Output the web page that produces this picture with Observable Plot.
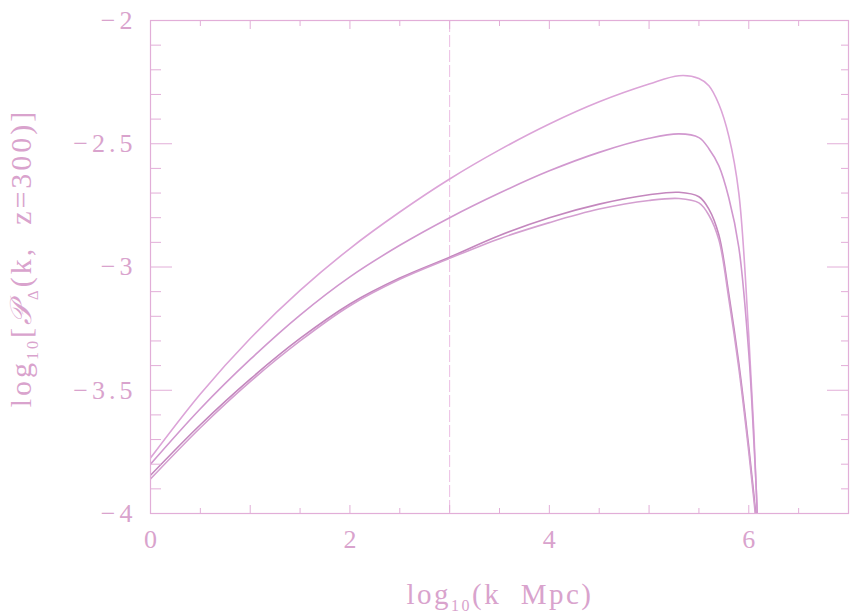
<!DOCTYPE html>
<html><head><meta charset="utf-8">
<script src="https://cdn.jsdelivr.net/npm/d3@7"></script>
<script src="https://cdn.jsdelivr.net/npm/@observablehq/plot@0.6"></script>
<style>body{margin:0;background:#fff}svg{display:block}</style>
</head><body><div id="chart"></div>
<script>
// log10(k Mpc) sample positions
const logK = [0, 0.5, 1, 1.5, 2, 2.5, 3, 3.5, 4, 4.5, 5, 5.3, 5.5, 5.6, 5.7, 5.8, 5.9, 6.0, 6.05, 6.08, 6.1, 6.15];
// log10[P(k, z=300)] for the four curves (top to bottom)
const curveA = [-3.775, -3.515, -3.29, -3.095, -2.925, -2.777, -2.643, -2.525, -2.42, -2.33, -2.258, -2.224, -2.235, -2.265, -2.34, -2.47, -2.70, -3.28, -3.66, -3.95, -4.2, -4.6];
const curveB = [-3.80, -3.575, -3.375, -3.195, -3.04, -2.912, -2.80, -2.70, -2.61, -2.535, -2.478, -2.46, -2.475, -2.52, -2.59, -2.72, -2.92, -3.35, -3.70, -3.95, -4.2, -4.6];
const curveC = [-3.845, -3.64, -3.455, -3.29, -3.15, -3.045, -2.96, -2.872, -2.80, -2.745, -2.707, -2.697, -2.715, -2.765, -2.87, -3.11, -3.39, -3.73, -3.92, -4.05, -4.2, -4.6];
const curveD = [-3.86, -3.652, -3.465, -3.30, -3.157, -3.05, -2.965, -2.885, -2.82, -2.765, -2.73, -2.722, -2.74, -2.79, -2.89, -3.13, -3.41, -3.75, -3.94, -4.07, -4.2, -4.6];
const seriesNames = ["A", "B", "C", "D"];
const seriesColors = ["#dca4d8", "#d198cf", "#c487be", "#d49fd0"];

const xLabelTicks = [0, 2, 4, 6];
const xMajorTicks = [0, 1, 2, 3, 4, 5, 6, 7];
const xMinorTicks = [0.5, 1.5, 2.5, 3.5, 4.5, 5.5, 6.5];
const yLabelTicks = [-4, -3.5, -3, -2.5, -2];
const yMinorTicks = [-3.9, -3.8, -3.7, -3.6, -3.4, -3.3, -3.2, -3.1, -2.9, -2.8, -2.7, -2.6, -2.4, -2.3, -2.2, -2.1];
const refLine = [3];

const curves = [curveA, curveB, curveC, curveD];
const rows = [];
curves.forEach((vals, i) => vals.forEach((v, j) => rows.push({k: logK[j], p: v, s: seriesNames[i]})));

const frameColor = "#e2aed8";
const textColor = "#d9a3cd";
const fmt = d => (d < 0 ? "\u2212" : "") + Math.abs(d);

const tickAxis = (fn, data, anchor, size) => fn(data, {anchor, tickSize: -size, fill: "none", stroke: frameColor, label: null});

const plot = Plot.plot({
  width: 856, height: 613,
  marginLeft: 150, marginRight: 8, marginTop: 20, marginBottom: 100,
  style: {fontFamily: "'Liberation Serif', serif", fontSize: "26px", background: "#fff"},
  x: {domain: [0, 7]},
  y: {domain: [-4, -2]},
  color: {domain: seriesNames, range: seriesColors},
  marks: [
    Plot.ruleX(refLine, {stroke: "#ecbde4", strokeWidth: 1, strokeDasharray: "12,3"}),
    Plot.line(rows, {x: "k", y: "p", z: "s", stroke: "s", strokeWidth: 1.6, curve: "catmull-rom", clip: true}),
    Plot.frame({stroke: frameColor, strokeWidth: 1.2}),
    tickAxis(Plot.axisX, xMajorTicks, "bottom", 8),
    tickAxis(Plot.axisX, xMinorTicks, "bottom", 5),
    tickAxis(Plot.axisX, xMajorTicks, "top", 8),
    tickAxis(Plot.axisX, xMinorTicks, "top", 5),
    tickAxis(Plot.axisY, yLabelTicks, "left", 22),
    tickAxis(Plot.axisY, yMinorTicks, "left", 11),
    tickAxis(Plot.axisY, yLabelTicks, "right", 22),
    tickAxis(Plot.axisY, yMinorTicks, "right", 8),
    Plot.axisX(xLabelTicks, {anchor: "bottom", tickSize: 0, tickPadding: 16, fill: textColor, fontSize: 26, label: null, tickFormat: fmt}),
    Plot.axisY(yLabelTicks, {anchor: "left", tickSize: 0, tickPadding: 14, fill: textColor, fontSize: 26, label: null, tickFormat: fmt})
  ]
});
document.getElementById("chart").appendChild(plot);

const svg = d3.select(plot);
svg.selectAll("g[aria-label='y-axis tick label'] text").attr("letter-spacing", "4px");

const xl = svg.append("text")
  .attr("x", 500).attr("y", 604)
  .attr("text-anchor", "middle")
  .attr("fill", textColor)
  .attr("font-family", "'Liberation Serif', serif")
  .attr("font-size", 29)
  .attr("letter-spacing", "2.5px")
  .style("white-space", "pre");
xl.append("tspan").text("log");
xl.append("tspan").attr("font-size", 16).attr("dy", 7).text("10");
xl.append("tspan").attr("dy", -7).text("(k  Mpc)");

const yl = svg.append("text")
  .attr("transform", "translate(31,258) rotate(-90)")
  .attr("text-anchor", "middle")
  .attr("fill", textColor)
  .attr("font-family", "'Liberation Serif', serif")
  .attr("font-size", 30)
  .attr("letter-spacing", "3px")
  .style("white-space", "pre");
yl.append("tspan").text("log");
yl.append("tspan").attr("font-size", 16).attr("dy", 7).text("10");
yl.append("tspan").attr("dy", -7).text("[");
yl.append("tspan").attr("font-style", "italic").attr("font-family", "'DejaVu Serif', serif").text("\u{1D4AB}");
yl.append("tspan").attr("font-size", 15).attr("dy", 7).text("\u0394");
yl.append("tspan").attr("dy", -7).text("(k,  z=300)]");
</script>
</body></html>
